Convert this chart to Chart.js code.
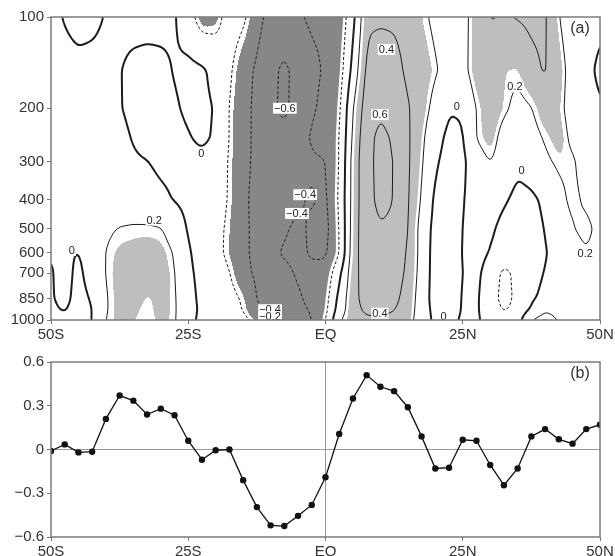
<!DOCTYPE html>
<html>
<head>
<meta charset="utf-8">
<script src="https://cdn.jsdelivr.net/npm/chart.js@4.4.1/dist/chart.umd.min.js"></script>
<style>
  html, body { margin: 0; padding: 0; background: #fff; }
  #wrap { position: relative; width: 615px; height: 556px; }
  canvas { position: absolute; left: 0; }
  #top { top: 0; }
  #bottom { top: 342px; }
</style>
</head>
<body>
<div id="wrap">
  <canvas id="top" width="615" height="342"></canvas>
  <canvas id="bottom" width="615" height="214"></canvas>
</div>
<script>
// latitudes, 2.5 degree spacing (columns of panel a, points of panel b)
var lats = [-50, -47.5, -45, -42.5, -40, -37.5, -35, -32.5, -30, -27.5, -25, -22.5, -20, -17.5, -15, -12.5, -10, -7.5, -5, -2.5,
            0, 2.5, 5, 7.5, 10, 12.5, 15, 17.5, 20, 22.5, 25, 27.5, 30, 32.5, 35, 37.5, 40, 42.5, 45, 47.5, 50];
// pressure levels (hPa) of panel a
var levels = [100, 150, 200, 250, 300, 400, 500, 600, 700, 850, 925, 1000];

// panel a field, one row per level
var u100  = [0.04, -0.01, -0.05, -0.04, 0.01, 0.05, 0.07, 0.06, 0.05, 0.02, -0.12, -0.3, -0.27, -0.12, -0.16, -0.33, -0.47, -0.52, -0.42, -0.37, -0.38, -0.35, -0.06, 0.37, 0.38, 0.37, 0.33, 0.24, 0.16, 0.1, 0.13, 0.3, 0.41, 0.39, 0.41, 0.44, 0.43, 0.2, 0.1, 0.06, 0.03];
var u150  = [0.06, 0.05, 0.04, 0.05, 0.05, 0.01, -0.05, -0.06, -0.04, 0.01, 0.05, 0.03, -0.06, -0.17, -0.32, -0.43, -0.56, -0.63, -0.55, -0.44, -0.38, -0.3, 0.06, 0.45, 0.48, 0.47, 0.36, 0.3, 0.22, 0.12, 0.14, 0.3, 0.36, 0.24, 0.23, 0.35, 0.42, 0.28, 0.12, 0.04, -0.03];
var u200  = [0.06, 0.06, 0.05, 0.05, 0.04, 0.01, -0.04, -0.06, -0.05, -0.02, 0.03, 0.04, -0.01, -0.21, -0.33, -0.45, -0.56, -0.64, -0.52, -0.42, -0.36, -0.25, 0.2, 0.5, 0.58, 0.52, 0.42, 0.28, 0.14, 0.01, 0.02, 0.21, 0.32, 0.23, 0.15, 0.19, 0.32, 0.25, 0.12, 0.06, 0.01];
var u250  = [0.05, 0.05, 0.05, 0.05, 0.05, 0.04, -0.01, -0.06, -0.07, -0.05, -0.01, 0.03, -0.02, -0.21, -0.33, -0.45, -0.53, -0.56, -0.48, -0.38, -0.33, -0.22, 0.24, 0.55, 0.64, 0.58, 0.43, 0.24, 0.06, -0.04, -0.02, 0.21, 0.28, 0.13, 0.08, 0.13, 0.22, 0.28, 0.16, 0.07, 0.05];
var u300  = [0.05, 0.05, 0.05, 0.05, 0.05, 0.05, 0.02, 0.005, -0.04, -0.05, -0.05, -0.04, -0.07, -0.22, -0.34, -0.45, -0.52, -0.55, -0.47, -0.42, -0.41, -0.21, 0.28, 0.55, 0.65, 0.6, 0.43, 0.22, 0.02, -0.06, -0.04, 0.12, 0.21, 0.11, 0.03, 0.08, 0.17, 0.23, 0.23, 0.1, 0.06];
var u400  = [0.04, 0.04, 0.05, 0.06, 0.07, 0.08, 0.09, 0.08, 0.04, -0.01, -0.05, -0.07, -0.1, -0.22, -0.36, -0.46, -0.52, -0.52, -0.42, -0.38, -0.44, -0.18, 0.28, 0.55, 0.64, 0.6, 0.42, 0.18, -0.04, -0.08, -0.01, 0.07, 0.08, 0.02, -0.04, -0.03, 0.03, 0.15, 0.24, 0.17, 0.08];
var u500  = [0.03, 0.03, 0.05, 0.08, 0.17, 0.21, 0.22, 0.22, 0.21, 0.12, -0.02, -0.1, -0.14, -0.24, -0.36, -0.45, -0.47, -0.42, -0.36, -0.43, -0.46, -0.21, 0.3, 0.54, 0.59, 0.57, 0.41, 0.12, -0.06, -0.1, 0.005, 0.06, 0.03, -0.05, -0.08, -0.06, 0.005, 0.1, 0.19, 0.25, 0.14];
var u600  = [0.005, 0.02, -0.005, 0.06, 0.21, 0.26, 0.27, 0.29, 0.27, 0.19, 0.02, -0.08, -0.14, -0.25, -0.36, -0.45, -0.44, -0.38, -0.36, -0.42, -0.43, -0.22, 0.32, 0.52, 0.56, 0.53, 0.38, 0.13, -0.08, -0.1, 0.01, 0.06, -0.01, -0.08, -0.12, -0.1, -0.01, 0.06, 0.12, 0.19, 0.12];
var u700  = [-0.01, 0.04, -0.03, 0.06, 0.21, 0.28, 0.3, 0.27, 0.29, 0.21, 0.04, -0.06, -0.1, -0.19, -0.35, -0.43, -0.46, -0.44, -0.38, -0.36, -0.34, -0.05, 0.33, 0.5, 0.53, 0.5, 0.36, 0.12, -0.08, -0.1, 0.005, 0.04, -0.08, -0.25, -0.15, -0.06, 0.01, 0.05, 0.1, 0.12, 0.13];
var u850  = [-0.01, 0.03, -0.04, 0.01, 0.19, 0.28, 0.28, 0.23, 0.27, 0.22, 0.07, -0.05, -0.1, -0.14, -0.22, -0.41, -0.48, -0.47, -0.42, -0.36, -0.28, 0.06, 0.34, 0.48, 0.5, 0.45, 0.32, 0.1, -0.08, -0.12, 0.02, 0.03, -0.12, -0.26, -0.16, -0.02, 0.04, 0.06, 0.1, 0.1, 0.1];
var u925  = [-0.02, 0.01, -0.05, -0.01, 0.19, 0.28, 0.26, 0.21, 0.28, 0.22, 0.08, -0.04, -0.09, -0.13, -0.205, -0.37, -0.46, -0.47, -0.43, -0.39, -0.26, 0.1, 0.32, 0.45, 0.44, 0.41, 0.3, 0.1, -0.06, -0.1, 0.02, 0.02, -0.08, -0.23, -0.13, 0.02, 0.19, 0.14, 0.1, 0.08, 0.08];
var u1000 = [-0.02, -0.03, -0.04, -0.01, 0.21, 0.27, 0.24, 0.21, 0.26, 0.22, 0.06, -0.05, -0.08, -0.1, -0.15, -0.25, -0.42, -0.48, -0.45, -0.41, -0.21, 0.19, 0.3, 0.36, 0.37, 0.35, 0.27, 0.1, -0.04, -0.06, 0.03, 0.02, -0.05, -0.1, -0.08, 0.22, 0.27, 0.195, 0.12, 0.08, 0.07];
var field = [u100, u150, u200, u250, u300, u400, u500, u600, u700, u850, u925, u1000];

// panel b series
var lineValues = [-0.01, 0.035, -0.02, -0.015, 0.21, 0.37, 0.335, 0.24, 0.28, 0.235, 0.06, -0.07, -0.005, 0.0, -0.21, -0.395, -0.52, -0.525, -0.455, -0.38,
                  -0.19, 0.106, 0.35, 0.51, 0.43, 0.40, 0.29, 0.09, -0.13, -0.125, 0.067, 0.06, -0.106, -0.245, -0.13, 0.09, 0.14, 0.07, 0.04, 0.14, 0.17];

var xTicks = [-50, -25, 0, 25, 50];
var xTickLabels = ['50S', '25S', 'EQ', '25N', '50N'];
var pTicks = [100, 200, 300, 400, 500, 600, 700, 850, 1000];
var bTicks = [-0.6, -0.3, 0, 0.3, 0.6];
var contourLevels = [-0.6, -0.4, -0.2, 0, 0.2, 0.4, 0.6];
// contour labels: [lat, hPa, text]
var contourLabels = [
  [-46.2, 590, '0'], [-31.2, 468, '0.2'], [-22.6, 282, '0'], [-7.4, 200, '\u22120.6'],
  [-3.7, 386, '\u22120.4'], [-5.2, 445, '\u22120.4'], [-10.1, 925, '\u22120.4'], [-10.1, 975, '\u22120.2'],
  [11.1, 128, '0.4'], [9.9, 210, '0.6'], [9.9, 950, '0.4'], [23.9, 198, '0'], [21.5, 977, '0'],
  [34.5, 170, '0.2'], [35.7, 322, '0'], [47.3, 603, '0.2']
];

Chart.defaults.font.family = "'Liberation Sans', Arial, sans-serif";
Chart.defaults.font.size = 15;
Chart.defaults.color = '#333';

var logLevels = levels.map(Math.log);

function locate(arr, v) {
  var n = arr.length - 1;
  if (v <= arr[0]) return [0, 0];
  if (v >= arr[n]) return [n - 1, 1];
  var i = 0;
  while (arr[i + 1] < v) i++;
  return [i, (v - arr[i]) / (arr[i + 1] - arr[i])];
}

function sampleField(lat, p) {
  var a = locate(lats, lat), b = locate(logLevels, Math.log(p));
  var i = a[0], s = a[1], j = b[0], t = b[1];
  var top = field[j][i] * (1 - s) + field[j][i + 1] * s;
  var bot = field[j + 1][i] * (1 - s) + field[j + 1][i + 1] * s;
  return top * (1 - t) + bot * t;
}

function blur(g, nx, ny) {
  var k = [1, 4, 6, 4, 1], tmp = [], out = [];
  for (var j = 0; j < ny; j++) {
    var row = [];
    for (var i = 0; i < nx; i++) {
      var s = 0;
      for (var m = -2; m <= 2; m++) s += k[m + 2] * g[j][Math.min(nx - 1, Math.max(0, i + m))];
      row.push(s / 16);
    }
    tmp.push(row);
  }
  for (var j = 0; j < ny; j++) {
    var row = [];
    for (var i = 0; i < nx; i++) {
      var s = 0;
      for (var m = -2; m <= 2; m++) s += k[m + 2] * tmp[Math.min(ny - 1, Math.max(0, j + m))][i];
      row.push(s / 16);
    }
    out.push(row);
  }
  return out;
}

function buildGrid(chart) {
  var a = chart.chartArea, x = chart.scales.x, y = chart.scales.y;
  var step = 2;
  var nx = Math.ceil((a.right - a.left) / step) + 1;
  var ny = Math.ceil((a.bottom - a.top) / step) + 1;
  var g = [];
  for (var j = 0; j < ny; j++) {
    var p = y.getValueForPixel(Math.min(a.top + j * step, a.bottom));
    var row = [];
    for (var i = 0; i < nx; i++) {
      row.push(sampleField(x.getValueForPixel(Math.min(a.left + i * step, a.right)), p));
    }
    g.push(row);
  }
  g = blur(blur(g, nx, ny), nx, ny);
  return { g: g, nx: nx, ny: ny, step: step, x0: a.left, y0: a.top };
}

// marching squares, segments joined into polylines
function trace(G, level) {
  var g = G.g, pts = {}, adj = {}, segs = [];
  function ep(key, xa, ya, va, xb, yb, vb) {
    if (!(key in pts)) {
      var t = (level - va) / (vb - va);
      pts[key] = [xa + t * (xb - xa), ya + t * (yb - ya)];
    }
    return key;
  }
  function add(k1, k2) {
    var id = segs.length;
    segs.push([k1, k2]);
    (adj[k1] = adj[k1] || []).push(id);
    (adj[k2] = adj[k2] || []).push(id);
  }
  for (var j = 0; j < G.ny - 1; j++) {
    for (var i = 0; i < G.nx - 1; i++) {
      var a = g[j][i], b = g[j][i + 1], c = g[j + 1][i + 1], d = g[j + 1][i];
      var X0 = G.x0 + i * G.step, X1 = X0 + G.step, Y0 = G.y0 + j * G.step, Y1 = Y0 + G.step;
      var e = [];
      if ((a > level) !== (b > level)) e.push(ep('h' + j + '_' + i, X0, Y0, a, X1, Y0, b));
      if ((b > level) !== (c > level)) e.push(ep('v' + j + '_' + (i + 1), X1, Y0, b, X1, Y1, c));
      if ((d > level) !== (c > level)) e.push(ep('h' + (j + 1) + '_' + i, X0, Y1, d, X1, Y1, c));
      if ((a > level) !== (d > level)) e.push(ep('v' + j + '_' + i, X0, Y0, a, X0, Y1, d));
      if (e.length === 2) add(e[0], e[1]);
      else if (e.length === 4) {
        if (((a + b + c + d) / 4 > level) === (a > level)) { add(e[0], e[1]); add(e[2], e[3]); }
        else { add(e[0], e[3]); add(e[1], e[2]); }
      }
    }
  }
  var used = [], lines = [];
  for (var s = 0; s < segs.length; s++) {
    if (used[s]) continue;
    used[s] = true;
    var chain = [segs[s][0], segs[s][1]];
    for (var dir = 0; dir < 2; dir++) {
      while (true) {
        var end = chain[chain.length - 1];
        var next = (adj[end] || []).find(function (id) { return !used[id]; });
        if (next === undefined) break;
        used[next] = true;
        chain.push(segs[next][0] === end ? segs[next][1] : segs[next][0]);
      }
      chain.reverse();
    }
    lines.push(chain.map(function (k) { return pts[k]; }));
  }
  return lines;
}

function strokeLines(ctx, lines) {
  lines.forEach(function (ln) {
    ctx.beginPath();
    ctx.moveTo(ln[0][0], ln[0][1]);
    for (var k = 1; k < ln.length; k++) ctx.lineTo(ln[k][0], ln[k][1]);
    ctx.stroke();
  });
}

var contourPlugin = {
  id: 'contour',
  beforeDatasetsDraw: function (chart) {
    var ctx = chart.ctx, a = chart.chartArea;
    var G = buildGrid(chart);
    var w = Math.round(a.right - a.left), h = Math.round(a.bottom - a.top);
    var off = document.createElement('canvas');
    off.width = w; off.height = h;
    var octx = off.getContext('2d');
    var img = octx.createImageData(w, h);
    for (var py = 0; py < h; py++) {
      var gy = py / G.step, j0 = Math.min(Math.floor(gy), G.ny - 2), ty = gy - j0;
      for (var px = 0; px < w; px++) {
        var gx = px / G.step, i0 = Math.min(Math.floor(gx), G.nx - 2), tx = gx - i0;
        var v = (G.g[j0][i0] * (1 - tx) + G.g[j0][i0 + 1] * tx) * (1 - ty) +
                (G.g[j0 + 1][i0] * (1 - tx) + G.g[j0 + 1][i0 + 1] * tx) * ty;
        var c = v > 0.24 ? 190 : (v < -0.24 ? 135 : 255);
        var o = (py * w + px) * 4;
        img.data[o] = c; img.data[o + 1] = c; img.data[o + 2] = c; img.data[o + 3] = 255;
      }
    }
    octx.putImageData(img, 0, 0);
    ctx.drawImage(off, a.left, a.top);

    ctx.save();
    ctx.beginPath();
    ctx.rect(a.left, a.top, a.right - a.left, a.bottom - a.top);
    ctx.clip();
    ctx.lineJoin = 'round';
    var traced = contourLevels.map(function (lv) { return trace(G, lv); });
    // white halo along the +-0.2 lines
    contourLevels.forEach(function (lv, n) {
      if (Math.abs(Math.abs(lv) - 0.2) > 1e-9) return;
      ctx.strokeStyle = '#fff';
      ctx.lineWidth = 6;
      ctx.setLineDash([]);
      strokeLines(ctx, traced[n]);
    });
    contourLevels.forEach(function (lv, n) {
      ctx.strokeStyle = '#1c1c1c';
      ctx.lineWidth = lv === 0 ? 2 : 1;
      ctx.setLineDash(lv < 0 ? [3, 2] : []);
      strokeLines(ctx, traced[n]);
    });
    ctx.setLineDash([]);
    ctx.font = "11px 'Liberation Sans', Arial, sans-serif";
    ctx.textAlign = 'center';
    ctx.textBaseline = 'middle';
    contourLabels.forEach(function (l) {
      var px = chart.scales.x.getPixelForValue(l[0]);
      var py = chart.scales.y.getPixelForValue(l[1]);
      var tw = ctx.measureText(l[2]).width;
      ctx.fillStyle = '#fff';
      ctx.fillRect(px - tw / 2 - 1, py - 5.5, tw + 2, 11);
      ctx.fillStyle = '#222';
      ctx.fillText(l[2], px, py + 0.5);
    });
    ctx.restore();
  }
};

function framePlugin(tag) {
  return {
    id: 'frame',
    afterDraw: function (chart) {
      var ctx = chart.ctx, a = chart.chartArea;
      ctx.save();
      ctx.strokeStyle = '#7a7a7a';
      ctx.lineWidth = 1.5;
      ctx.strokeRect(a.left, a.top, a.right - a.left, a.bottom - a.top);
      ctx.fillStyle = '#333';
      ctx.font = "16px 'Liberation Sans', Arial, sans-serif";
      ctx.textAlign = 'center';
      ctx.textBaseline = 'middle';
      ctx.fillText(tag, a.right - 20, a.top + 12);
      ctx.restore();
    }
  };
}

function xAxis(height) {
  return {
    type: 'linear', min: -50, max: 50,
    border: { display: false },
    grid: {
      drawOnChartArea: true, tickLength: 4, tickColor: '#777',
      color: function (c) { return 'rgba(0,0,0,0)'; }
    },
    ticks: {
      padding: 2, color: '#333',
      callback: function (v) { return xTickLabels[xTicks.indexOf(v)]; }
    },
    afterBuildTicks: function (s) { s.ticks = xTicks.map(function (v) { return { value: v }; }); },
    afterFit: function (s) { s.height = height; s.paddingLeft = 0; s.paddingRight = 0; }
  };
}

new Chart(document.getElementById('top'), {
  type: 'scatter',
  data: { datasets: [] },
  options: {
    responsive: false, animation: false, devicePixelRatio: 1,
    layout: { padding: { top: 17, right: 15, left: 0, bottom: 0 } },
    plugins: { legend: { display: false }, tooltip: { enabled: false } },
    scales: {
      x: xAxis(22),
      y: {
        type: 'logarithmic', reverse: true, min: 100, max: 1000,
        border: { display: false },
        grid: { drawOnChartArea: false, tickLength: 4, tickColor: '#777' },
        ticks: { padding: 3, color: '#333', callback: function (v) { return String(v); } },
        afterBuildTicks: function (s) { s.ticks = pTicks.map(function (v) { return { value: v }; }); },
        afterFit: function (s) { s.width = 51; s.paddingTop = 0; s.paddingBottom = 0; }
      }
    }
  },
  plugins: [contourPlugin, framePlugin('(a)')]
});

var bx = xAxis(19);
bx.grid.color = function (c) { return c.tick && c.tick.value === 0 ? '#9a9a9a' : 'rgba(0,0,0,0)'; };

new Chart(document.getElementById('bottom'), {
  type: 'scatter',
  data: {
    datasets: [{
      data: lats.map(function (v, i) { return { x: v, y: lineValues[i] }; }),
      showLine: true,
      borderColor: '#111',
      borderWidth: 1.3,
      pointRadius: 3.2,
      pointBackgroundColor: '#111',
      pointBorderWidth: 0
    }]
  },
  options: {
    responsive: false, animation: false, devicePixelRatio: 1,
    layout: { padding: { top: 20, right: 15, left: 0, bottom: 0 } },
    plugins: { legend: { display: false }, tooltip: { enabled: false } },
    scales: {
      x: bx,
      y: {
        type: 'linear', min: -0.6, max: 0.6,
        border: { display: false },
        grid: {
          tickLength: 4, tickColor: '#777',
          color: function (c) { return c.tick && c.tick.value === 0 ? '#9a9a9a' : 'rgba(0,0,0,0)'; }
        },
        ticks: {
          padding: 3, color: '#333',
          callback: function (v) { return v === 0 ? '0' : (v < 0 ? '\u2212' : '') + Math.abs(v).toFixed(1); }
        },
        afterBuildTicks: function (s) { s.ticks = bTicks.map(function (v) { return { value: v }; }); },
        afterFit: function (s) { s.width = 51; s.paddingTop = 0; s.paddingBottom = 0; }
      }
    }
  },
  plugins: [framePlugin('(b)')]
});
</script>
</body>
</html>
